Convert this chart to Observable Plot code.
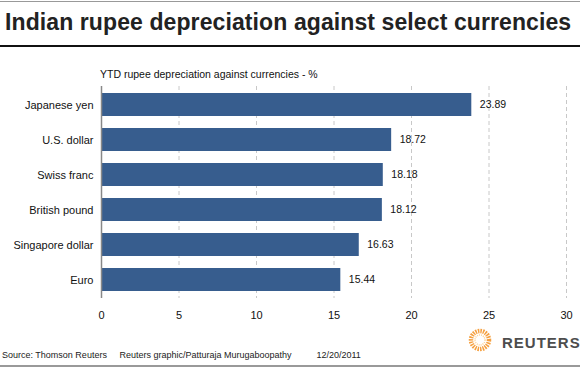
<!DOCTYPE html>
<html>
<head>
<meta charset="utf-8">
<script src="https://cdn.jsdelivr.net/npm/d3@7"></script>
<script src="https://cdn.jsdelivr.net/npm/@observablehq/plot@0.6"></script>
<style>
  html, body { margin: 0; padding: 0; background: #fff; }
  #wrap { position: relative; width: 580px; height: 368px; overflow: hidden; font-family: "Liberation Sans", Arial, sans-serif; }
  #topline { position: absolute; left: 0; top: 1px; width: 580px; height: 1px; background: #999; }
  #title { position: absolute; left: 5px; top: 9px; font-size: 23px; font-weight: bold; color: #222; white-space: nowrap; letter-spacing: 0.1px; }
  #titleline { position: absolute; left: 0; top: 45px; width: 580px; height: 2px; background: #111; }
  #subtitle { position: absolute; left: 100px; top: 68px; font-size: 10.5px; color: #111; white-space: nowrap; }
  #footer { position: absolute; left: 2px; top: 350px; font-size: 9px; color: #222; white-space: pre; }
  #botline { position: absolute; left: 0; top: 365px; width: 580px; height: 2px; background: #999; }
  #logo { position: absolute; left: 465px; top: 328px; }
  #chart { position: absolute; left: 0; top: 0; }
</style>
</head>
<body>
<div id="wrap">
  <div id="chart"></div>
  <div id="topline"></div>
  <div id="title">Indian rupee depreciation against select currencies</div>
  <div id="titleline"></div>
  <div id="subtitle">YTD rupee depreciation against currencies - %</div>
  <div id="footer">Source: Thomson Reuters     Reuters graphic/Patturaja Murugaboopathy          12/20/2011</div>
  <svg id="logo" width="115" height="28">
    <circle cx="15" cy="12" r="9" fill="none" stroke="#f5a040" stroke-width="4.5" stroke-dasharray="1.5,1"/>
    <circle cx="15" cy="12" r="5" fill="none" stroke="#fbd49a" stroke-width="1.5" stroke-dasharray="1,1"/>
    <text x="37" y="20" font-family="Liberation Sans, Arial, sans-serif" font-weight="bold" font-size="15" letter-spacing="1" fill="#4d4d4d">REUTERS</text>
  </svg>
  <div id="botline"></div>
</div>
<script>
const currencies = ["Japanese yen", "U.S. dollar", "Swiss franc", "British pound", "Singapore dollar", "Euro"];
const values = [23.89, 18.72, 18.18, 18.12, 16.63, 15.44];
const xTicks = [0, 5, 10, 15, 20, 25, 30];

const data = currencies.map((c, i) => ({currency: c, value: values[i]}));

const chart = Plot.plot({
  width: 580,
  height: 368,
  marginTop: 86,
  marginBottom: 70,
  marginLeft: 101,
  marginRight: 14,
  style: {fontFamily: "Liberation Sans, Arial, sans-serif", fontSize: "11px", color: "#111", background: "transparent"},
  x: {domain: [0, 30], ticks: xTicks, label: null},
  y: {domain: currencies, paddingInner: 0.35, paddingOuter: 0.17, label: null},
  marks: [
    Plot.ruleX(xTicks.filter(d => d > 0), {stroke: "#c8c8c8", strokeDasharray: "4,3", strokeWidth: 1}),
    Plot.barX(data, {y: "currency", x: "value", fill: "#375d8e"}),
    Plot.text(data, {y: "currency", x: "value", text: d => d.value.toFixed(2), textAnchor: "start", dx: 8, fontSize: 10.5, fill: "#111"}),
    Plot.ruleX([0], {stroke: "#888", strokeWidth: 1.5}),
    Plot.axisX({ticks: xTicks, tickSize: 0, tickPadding: 13, tickFormat: d => String(d), fontSize: 11, label: null}),
    Plot.axisY({tickSize: 0, tickPadding: 8, fontSize: 11, label: null})
  ]
});
document.getElementById("chart").appendChild(chart);
</script>
</body>
</html>
